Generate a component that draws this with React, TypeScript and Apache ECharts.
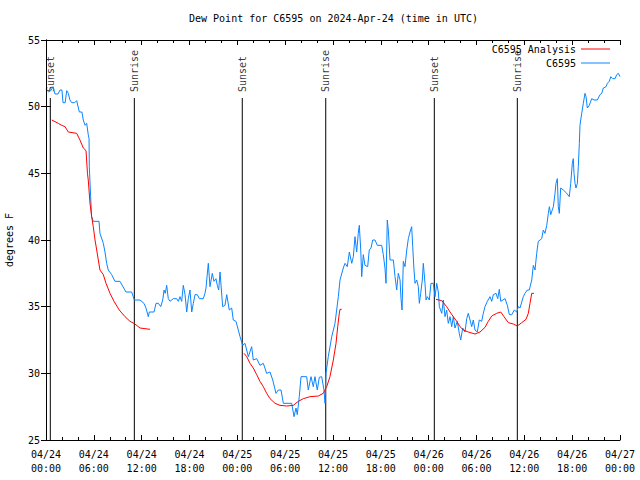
import React, { useEffect, useRef } from "react";
import * as echarts from "echarts";

// Hours since 2024-04-24 00:00 UTC and dew point (°F) for the station observations
const obsHours = [
  0.29, 0.6, 0.88, 1.13, 1.5, 1.76, 2.0, 2.13, 2.4, 2.6, 2.8, 3.0, 3.22, 3.6, 3.85, 4.18, 4.5, 4.68, 4.9, 5.1,
  5.3, 5.4, 5.43, 5.6, 5.72, 5.93, 6.65, 6.77, 7.19, 7.4, 7.61, 7.81, 8.24, 8.65, 9.28, 10.03, 10.75, 11.08, 11.79,
  12.29, 12.54, 12.83, 12.96, 13.55, 13.8, 14.1, 14.39, 14.64, 14.81, 14.96, 15.14, 15.34, 15.55, 15.97, 16.39,
  16.6, 16.81, 17.02, 17.22, 17.44, 17.65, 17.85, 18.06, 18.28, 18.48, 18.69, 18.98, 19.23, 19.73, 19.94, 20.07,
  20.16, 20.36, 20.57, 20.86, 21.07, 21.32, 21.49, 21.66, 21.83, 22.16, 22.45, 22.67, 22.99, 23.29, 23.49, 23.83,
  24.12, 24.34, 24.67, 24.96, 25.38, 25.8, 26.0, 26.43, 26.84, 27.26, 27.68, 28.1, 28.44, 28.85, 29.14, 29.48,
  29.77, 30.82, 31.11, 31.36, 31.52, 31.77, 31.99, 32.7, 32.9, 33.24, 33.53, 33.74, 34.03, 34.28, 34.58, 34.87,
  35.0, 35.12, 35.41, 35.84, 36.25, 36.67, 36.88, 37.29, 37.51, 37.79, 38.05, 38.35, 38.55, 38.76, 38.97, 39.17,
  39.3, 39.48, 39.6, 39.8, 40.01, 40.35, 40.55, 40.77, 40.98, 41.27, 41.56, 42.11, 42.31, 42.52, 42.65, 42.81,
  42.94, 43.15, 43.57, 43.78, 43.99, 44.19, 44.41, 44.53, 44.66, 44.82, 45.03, 45.25, 45.45, 45.66, 45.87, 46.0,
  46.16, 46.29, 46.5, 46.7, 46.83, 47.0, 47.2, 47.33, 47.54, 47.67, 47.83, 48.08, 48.29, 48.58, 48.8, 49.01,
  49.21, 49.34, 49.64, 49.84, 50.05, 50.26, 50.46, 50.68, 50.89, 51.09, 51.3, 51.59, 51.84, 52.02, 52.27, 52.56,
  52.77, 52.97, 53.19, 53.4, 53.6, 53.81, 54.1, 54.35, 54.65, 54.85, 55.07, 55.36, 55.69, 55.91, 56.11, 56.45,
  56.66, 56.86, 57.04, 57.58, 57.87, 58.12, 58.42, 58.74, 59.04, 59.25, 59.46, 59.87, 60.08, 60.37, 60.62, 60.93,
  61.13, 61.34, 61.55, 61.75, 61.97, 62.18, 62.38, 62.59, 62.81, 63.01, 63.14, 63.31, 63.64, 63.85, 63.97, 64.14,
  64.26, 64.39, 64.56, 64.89, 65.32, 65.64, 65.82, 66.02, 66.14, 66.23, 66.36, 66.48, 66.65, 66.77, 66.9, 66.98,
  67.2, 67.4, 67.61, 67.74, 67.9, 68.15, 68.45, 68.74, 69.16, 69.49, 69.71, 69.91, 70.25, 70.42, 70.66, 70.84,
  71.09, 71.38, 71.59, 71.79, 72.0,
];
const obsDewpt = [
  51.1, 51.2, 51.5, 50.95, 50.95, 51.25, 51.25, 50.3, 50.3, 51.2, 51.0, 50.5, 50.3, 50.3, 50.45, 49.6, 49.6, 49.0, 48.6, 48.75,
  47.9, 47.6, 45.5, 43.25, 41.75, 41.4, 41.4, 40.5, 39.75, 39.1, 38.25, 37.75, 37.4, 36.9, 36.9, 36.1, 36.1, 35.5, 35.5,
  35.25, 34.9, 34.25, 34.6, 34.6, 35.25, 35.25, 35.0, 35.5, 36.25, 36.0, 36.6, 35.6, 35.4, 35.6, 35.6,
  35.4, 35.75, 35.4, 36.6, 35.9, 34.6, 35.6, 36.25, 34.6, 35.25, 35.9, 35.9, 35.6, 35.6, 36.0, 36.4,
  37.0, 38.25, 36.5, 37.5, 36.9, 37.1, 36.6, 36.25, 37.6, 35.0, 35.1, 35.9, 34.75, 34.9, 34.0, 33.9,
  33.25, 32.75, 32.1, 32.25, 31.25, 32.0, 31.0, 31.1, 30.6, 30.75, 30.0, 30.1, 29.5, 28.5, 28.75, 28.75,
  27.75, 27.75, 26.75, 27.4, 26.9, 28.25, 29.75, 29.75, 28.75, 29.75, 29.0, 29.75, 28.75, 29.7, 29.75, 28.75,
  27.75, 30.0, 31.25, 32.75, 33.75, 35.75, 37.0, 37.9, 38.25, 38.0, 39.1, 38.25, 38.75, 40.25, 39.1, 40.5,
  41.1, 39.25, 37.25, 38.9, 38.1, 38.0, 39.25, 39.4, 40.0, 40.0, 39.6, 39.6, 38.9, 37.9, 36.75, 41.5,
  40.75, 38.5, 38.5, 37.25, 36.25, 37.5, 37.0, 35.6, 34.75, 38.4, 38.0, 39.25, 40.1, 40.6, 41.0, 39.5,
  37.75, 36.75, 37.0, 36.5, 35.25, 36.0, 37.0, 38.25, 36.75, 35.5, 35.75, 35.5, 36.75, 36.75, 35.75, 36.75,
  36.1, 35.0, 34.5, 35.5, 34.25, 34.75, 33.75, 34.25, 33.5, 34.25, 33.4, 33.9, 33.0, 32.5, 33.4, 33.1,
  34.1, 34.5, 34.0, 33.5, 34.0, 33.25, 33.1, 34.0, 33.9, 34.5, 35.0, 35.4, 35.75, 35.4, 35.9, 36.0,
  35.6, 36.3, 35.4, 35.6, 35.1, 34.4, 34.4, 34.75, 34.6, 35.0, 34.9, 35.75, 36.0, 36.25, 36.25, 37.0,
  38.1, 37.75, 39.0, 39.9, 40.0, 40.1, 40.75, 40.5, 41.1, 42.0, 42.5, 41.9, 42.5, 43.5, 44.25, 44.6,
  42.5, 42.0, 43.9, 43.75, 43.5, 43.25, 44.25, 45.75, 46.1, 45.0, 44.25, 43.9, 44.25, 45.5, 47.25, 48.6,
  49.5, 50.25, 51.0, 50.75, 49.9, 50.1, 50.6, 50.5, 50.5, 50.9, 51.0, 51.4, 51.5, 51.75, 51.9, 52.25,
  52.1, 52.1, 52.4, 52.5, 52.25,
];

// Analysis series (null = gap between analysis runs)
const anaHours = [
  0.72, 1.54, 1.97, 2.38, 2.8, 3.85, 4.26, 4.68, 5.02, 5.2, 5.3, 5.52, 5.73, 5.93, 6.15, 6.36, 6.56, 6.77, 7.19, 7.53,
  8.03, 8.53, 9.19, 9.91, 10.54, 11.16, 11.79, 13.05,
  18.0,
  24.84, 25.18, 25.59, 26.0, 26.43, 26.84, 27.26, 27.68, 28.1, 28.73, 29.35, 30.19, 31.02, 31.65, 32.28, 33.12,
  34.16, 34.78, 35.21, 35.62, 36.04, 36.38, 36.59, 36.79, 36.88, 37.09,
  42.0,
  48.92, 49.64, 50.26, 50.68, 51.09, 51.52, 51.93, 52.35, 52.97, 53.81, 54.44, 55.07, 55.48, 55.91, 56.53, 57.04,
  57.45, 57.99, 58.62, 59.12, 59.67, 60.21, 60.5, 60.71, 60.93, 61.21,
];
const anaDewpt: (number | null)[] = [
  49.0, 48.75, 48.6, 48.5, 48.1, 48.0, 47.5, 46.9, 46.7, 45.0, 44.5, 42.75, 41.75, 41.0, 40.0, 39.25, 38.5, 37.75, 37.4, 36.75,
  36.0, 35.4, 34.75, 34.25, 33.9, 33.7, 33.4, 33.3,
  null,
  31.5, 31.25, 30.75, 30.4, 29.9, 29.4, 29.0, 28.5, 28.1, 27.75, 27.6, 27.55, 27.6, 27.9, 28.1, 28.25,
  28.3, 28.5, 29.0, 29.75, 31.0, 32.25, 33.5, 34.5, 34.8, 34.8,
  null,
  35.55, 35.45, 35.0, 34.6, 34.25, 33.9, 33.5, 33.25, 33.1, 32.95, 33.1, 33.45, 33.9, 34.3, 34.5, 34.6,
  34.25, 33.8, 33.7, 33.55, 33.8, 34.05, 34.5, 35.25, 36.0, 36.0,
];

// Sun events (hours since 2024-04-24 00:00 UTC)
const eventHours = [0.54, 11.08, 24.62, 35.09, 48.71, 59.12];
const eventNames = ["Sunset", "Sunrise", "Sunset", "Sunrise", "Sunset", "Sunrise"];

const startDay = 24;
const FONT = "DejaVu Sans Mono";
const EVENT_TOP = 50.65;

function fmtHour(h: number): string {
  const day = startDay + Math.floor(h / 24);
  const hh = Math.round(h % 24);
  return "04/" + String(day).padStart(2, "0") + "\n" + String(hh).padStart(2, "0") + ":00";
}

export default function App() {
  const ref = useRef<HTMLDivElement>(null);
  useEffect(() => {
    document.body.style.margin = "0";
    if (!ref.current) return;
    const chart = echarts.init(ref.current, null, { renderer: "svg" });

    const obsData = obsHours.map((h, i) => [h, obsDewpt[i]]);
    const anaData = anaHours.map((h, i) => [h, anaDewpt[i] == null ? "-" : anaDewpt[i]]);
    const eventLineData: any[] = [];
    eventHours.forEach((h) => {
      eventLineData.push([h, 25], [h, EVENT_TOP], [h, "-"]);
    });
    const eventLabelData = eventHours.map((h, i) => ({ value: [h, EVENT_TOP], name: eventNames[i] }));

    const tickCommon = {
      axisTick: { show: true, inside: true, length: 5, lineStyle: { color: "#000" } },
      axisLine: { show: true, lineStyle: { color: "#000", width: 1 } },
      splitLine: { show: false },
    };

    chart.setOption({
      animation: false,
      backgroundColor: "#fff",
      textStyle: { fontFamily: FONT, color: "#000" },
      title: {
        text: "Dew Point for C6595 on 2024-Apr-24 (time in UTC)",
        left: 184,
        top: 8,
        textStyle: { fontFamily: FONT, fontSize: 10, fontWeight: "normal", color: "#000" },
      },
      legend: {
        data: ["C6595 Analysis", "C6595"],
        orient: "vertical",
        right: 25,
        top: 38,
        align: "right",
        itemWidth: 29,
        itemHeight: 1,
        itemGap: 2,
        icon: "rect",
        textStyle: { fontFamily: FONT, fontSize: 10, color: "#000", lineHeight: 12 },
      },
      grid: { left: 46, right: 20, top: 40, bottom: 40, containLabel: false, outerBoundsMode: "none" },
      xAxis: [
        {
          type: "value",
          min: 0,
          max: 72,
          interval: 6,
          position: "bottom",
          ...tickCommon,
          minorTick: { show: true, splitNumber: 3, length: 3, lineStyle: { color: "#000" } },
          axisLabel: {
            fontFamily: FONT,
            fontSize: 10,
            color: "#000",
            lineHeight: 14,
            margin: 7,
            formatter: (v: number) => fmtHour(v),
          },
        },
        {
          type: "value",
          min: 0,
          max: 72,
          interval: 6,
          position: "top",
          ...tickCommon,
          minorTick: { show: true, splitNumber: 3, length: 3, lineStyle: { color: "#000" } },
          axisLabel: { show: false },
        },
      ],
      yAxis: [
        {
          type: "value",
          min: 25,
          max: 55,
          interval: 5,
          position: "left",
          ...tickCommon,
          name: "degrees F",
          nameLocation: "middle",
          nameGap: 32,
          nameTextStyle: { fontFamily: FONT, fontSize: 10, color: "#000" },
          axisLabel: { fontFamily: FONT, fontSize: 10, color: "#000", margin: 6 },
        },
        {
          type: "value",
          min: 25,
          max: 55,
          interval: 5,
          position: "right",
          ...tickCommon,
          axisLabel: { show: false },
        },
      ],
      series: [
        {
          name: "sun events",
          type: "line",
          data: eventLineData,
          symbol: "none",
          silent: true,
          lineStyle: { color: "#000", width: 1 },
          z: 1,
        },
        {
          name: "sun labels",
          type: "scatter",
          data: eventLabelData,
          symbolSize: 0,
          silent: true,
          label: {
            show: true,
            formatter: (p: any) => p.name,
            position: "top",
            distance: 6,
            rotate: 90,
            align: "left",
            verticalAlign: "middle",
            fontFamily: FONT,
            fontSize: 10,
            color: "#000",
          },
          z: 1,
        },
        {
          name: "C6595 Analysis",
          type: "line",
          data: anaData,
          symbol: "none",
          showSymbol: false,
          connectNulls: false,
          lineStyle: { color: "#ff0000", width: 1 },
          itemStyle: { color: "#ff0000" },
          z: 3,
        },
        {
          name: "C6595",
          type: "line",
          data: obsData,
          symbol: "none",
          showSymbol: false,
          lineStyle: { color: "#0a84ff", width: 1 },
          itemStyle: { color: "#0a84ff" },
          z: 2,
        },
      ],
    });
    return () => chart.dispose();
  }, []);
  return <div ref={ref} style={{ width: 640, height: 480 }} />;
}
